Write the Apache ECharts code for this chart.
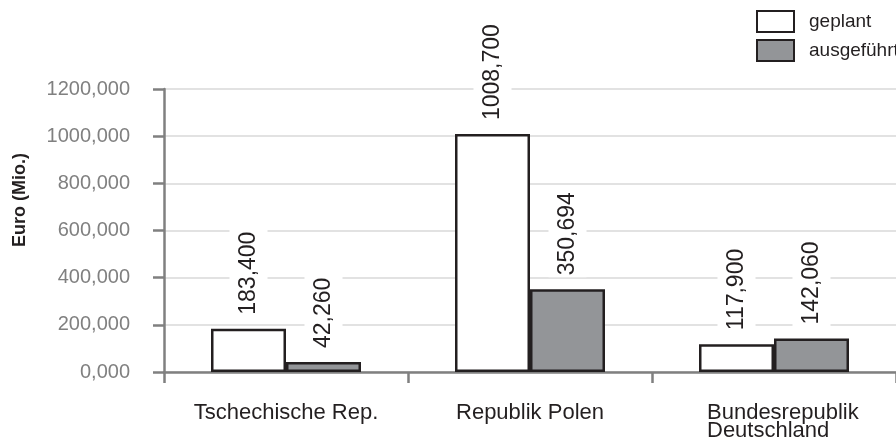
<!DOCTYPE html>
<html>
<head>
<meta charset="utf-8">
<script src="https://cdn.jsdelivr.net/npm/echarts@6/dist/echarts.min.js"></script>
<style>
  html, body { margin: 0; padding: 0; background: #fff; }
  #chart { width: 896px; height: 446px; }
</style>
</head>
<body>
<div id="chart"></div>
<script>
// Fördermittel je Land, Mio. Euro
const categories = ['Tschechische Rep.', 'Republik Polen', 'Bundesrepublik\nDeutschland'];
const seriesNames = ['geplant', 'ausgeführt'];
const geplant = [183.4, 1008.7, 117.9];
const ausgefuehrt = [42.26, 350.694, 142.06];
const yTicks = [0, 200, 400, 600, 800, 1000, 1200];

const FONT = "'Liberation Sans', Arial, Helvetica, sans-serif";
const fmt = v => Number(v).toFixed(3).replace('.', ',');

const chart = echarts.init(document.getElementById('chart'), null, { renderer: 'canvas' });

const barLabel = {
  show: true,
  position: 'top',
  distance: 12,
  rotate: 90,
  align: 'left',
  verticalAlign: 'middle',
  fontFamily: FONT,
  fontSize: 23,
  lineHeight: 26,
  color: '#231f20',
  backgroundColor: '#ffffff',
  padding: [6, 2, 6, 2],
  formatter: p => fmt(p.value)
};

chart.setOption({
  animation: false,
  backgroundColor: '#ffffff',
  grid: { left: 164, right: -4, top: 89, bottom: 74, containLabel: false },
  legend: {
    data: seriesNames,
    orient: 'vertical',
    left: 756,
    top: 10,
    padding: 0,
    itemWidth: 37,
    itemHeight: 21,
    itemGap: 6,
    icon: 'rect',
    textStyle: { fontFamily: FONT, fontSize: 19, color: '#231f20', padding: [0, 0, 0, 10] }
  },
  graphic: [{
    type: 'text',
    x: 20,
    y: 200,
    rotation: Math.PI / 2,
    style: {
      text: 'Euro (Mio.)',
      font: 'bold 18px ' + FONT,
      fill: '#231f20',
      align: 'center',
      verticalAlign: 'middle'
    }
  }],
  xAxis: {
    type: 'category',
    data: categories,
    boundaryGap: true,
    axisLine: { lineStyle: { color: '#808080', width: 2.5 } },
    axisTick: { show: true, length: 11, lineStyle: { color: '#808080', width: 2.5 } },
    axisLabel: {
      margin: 32,
      interval: 0,
      formatter: v => {
        const lines = v.split('\n');
        return lines.map(s => (lines.length > 1 ? '{m|' : '{a|') + s + '}').join('\n');
      },
      rich: {
        a: { fontFamily: FONT, fontSize: 22, lineHeight: 18, color: '#231f20' },
        m: { fontFamily: FONT, fontSize: 22, lineHeight: 18, color: '#231f20',
             width: 154, align: 'left', padding: [0, 0, 0, 20] }
      },
      align: 'center',
      verticalAlign: 'top'
    }
  },
  yAxis: {
    type: 'value',
    min: yTicks[0],
    max: yTicks[yTicks.length - 1],
    interval: yTicks[1] - yTicks[0],
    axisLine: { show: true, lineStyle: { color: '#808080', width: 2.5 } },
    axisTick: { show: true, length: 11, lineStyle: { color: '#808080', width: 2.5 } },
    axisLabel: {
      margin: 34,
      fontFamily: FONT,
      fontSize: 20,
      color: '#808080',
      formatter: v => fmt(v)
    },
    splitLine: { show: true, lineStyle: { color: '#d9d9d9', width: 1.5 } }
  },
  series: [
    {
      name: seriesNames[0],
      type: 'bar',
      data: geplant,
      barWidth: 75,
      barGap: '0%',
      itemStyle: { color: '#ffffff', borderColor: '#231f20', borderWidth: 2.5 },
      label: barLabel,
      z: 3
    },
    {
      name: seriesNames[1],
      type: 'bar',
      data: ausgefuehrt,
      barWidth: 75,
      barGap: '0%',
      itemStyle: { color: '#939598', borderColor: '#231f20', borderWidth: 2.5 },
      label: barLabel,
      z: 3
    }
  ]
});
</script>
</body>
</html>
